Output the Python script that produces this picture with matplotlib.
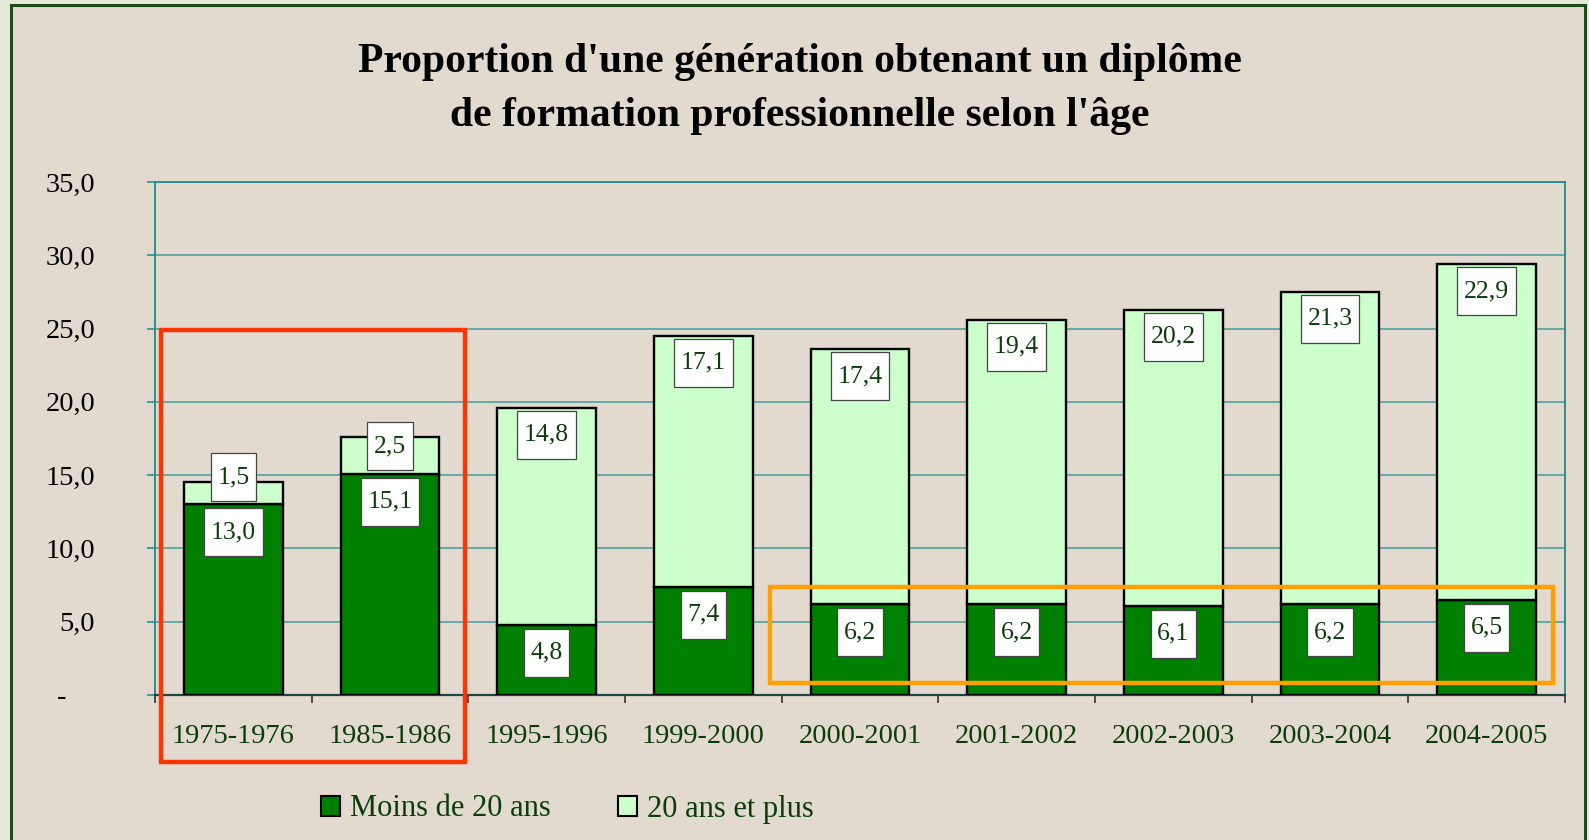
import matplotlib
matplotlib.use("Agg")
import matplotlib.pyplot as plt
from matplotlib.patches import Patch, Rectangle
from matplotlib.path import Path
import numpy as np

# ── data ────────────────────────────────────────────────────────────────
periods = ["1975-1976", "1985-1986", "1995-1996", "1999-2000", "2000-2001",
           "2001-2002", "2002-2003", "2003-2004", "2004-2005"]
moins_20 = [13.0, 15.1, 4.8, 7.4, 6.2, 6.2, 6.1, 6.2, 6.5]
plus_20 = [1.5, 2.5, 14.8, 17.1, 17.4, 19.4, 20.2, 21.3, 22.9]
series_names = ["Moins de 20 ans", "20 ans et plus"]
title = "Proportion d'une génération obtenant un diplôme\nde formation professionnelle selon l'âge"

# ── style ───────────────────────────────────────────────────────────────
_OUTER = "#E7E9DB"
_BG = "#E3DACF"
_FRAME = "#1E4A1E"
_DARK = "#008000"
_LIGHT = "#CCFFCC"
_TXT = "#0B3D0B"
_TEAL = "#2E8E8E"
_GRID = "#5AA6A6"
_RED = "#FF3300"
_ORANGE = "#FFA000"
_SERIF = ["Liberation Serif", "DejaVu Serif"]

W, H, DPI = 1589, 840, 100
AX_L, AX_R, AX_T, AX_B = 155, 1565, 182, 695   # pixels
YMAX = 35
PX_PER_U = (AX_B - AX_T) / YMAX
BOX_H = 48 / PX_PER_U        # label box height in data units
BOX_GAP = 4 / PX_PER_U


def label_box(x0, y0, width, height, mutation_size):
    """Excel-like data label box: fixed height, narrow side padding."""
    padx = 0.26 * mutation_size
    half_h = 24
    cy = y0 + height / 2
    x_l, x_r = x0 - padx, x0 + width + padx
    verts = [(x_l, cy - half_h), (x_r, cy - half_h), (x_r, cy + half_h),
             (x_l, cy + half_h), (x_l, cy - half_h)]
    return Path(verts, closed=True)


fig = plt.figure(figsize=(W / DPI, H / DPI), dpi=DPI, facecolor=_OUTER)

# framed panel
fig.patches.append(Rectangle((11 / W, -0.02), (1585 - 11) / W, 1 - 5 / H + 0.02,
                             transform=fig.transFigure, fc=_BG, ec=_FRAME,
                             lw=2.2, zorder=-10))

ax = fig.add_axes([AX_L / W, 1 - AX_B / H, (AX_R - AX_L) / W, (AX_B - AX_T) / H])
ax.set_facecolor("none")

x = np.arange(len(periods))
bw = 0.63
ax.bar(x, moins_20, bw, color=_DARK, edgecolor="black", lw=1.7, zorder=3,
       label=series_names[0])
ax.bar(x, plus_20, bw, bottom=moins_20, color=_LIGHT, edgecolor="black", lw=1.7,
       zorder=3, label=series_names[1])

ax.set_xlim(-0.5, len(periods) - 0.5)
ax.set_ylim(0, YMAX)

# y axis
yt = np.arange(0, YMAX + 1, 5)
ax.set_yticks(yt)
ax.set_yticklabels(["-    " if v == 0 else f"{v:.1f}".replace(".", ",") for v in yt],
                   family=_SERIF, fontsize=20.5, color="black")
ax.tick_params(axis="y", length=6, width=1.2, color=_TEAL, pad=37)
ax.yaxis.grid(True, color=_GRID, lw=1.3, zorder=1)
ax.set_axisbelow(True)

# x axis: ticks on category boundaries, labels at centres
ax.set_xticks(np.arange(len(periods) + 1) - 0.5)
ax.set_xticklabels([])
ax.set_xticks(x, minor=True)
ax.set_xticklabels(periods, minor=True, family=_SERIF, fontsize=20.5, color=_TXT)
ax.tick_params(axis="x", which="major", length=6, width=1.2, color="#333333")
ax.tick_params(axis="x", which="minor", length=0, pad=21)

for side in ["left", "top", "right"]:
    ax.spines[side].set_color(_TEAL)
    ax.spines[side].set_linewidth(1.4)
ax.spines["bottom"].set_color("#1F4545")
ax.spines["bottom"].set_linewidth(1.6)

# data labels
for i, (lo, hi) in enumerate(zip(moins_20, plus_20)):
    lo_box_top = lo - BOX_GAP
    lo_c = lo_box_top - BOX_H / 2
    top = lo + hi
    hi_box_top = max(top - BOX_GAP * 0.75, lo_box_top + BOX_H + 0.5)
    hi_c = hi_box_top - BOX_H / 2
    for val, yc in ((lo, lo_c), (hi, hi_c)):
        ax.text(i, yc, f"{val:.1f}".replace(".", ","), ha="center", va="center",
                family=_SERIF, fontsize=18.5, color=_TXT, zorder=6,
                bbox=dict(boxstyle=label_box, fc="white", ec="#444444", lw=0.9))

# highlight frames
ax.add_patch(Rectangle((-0.462, -4.57), 1.941, 24.9 + 4.57, fill=False,
                       ec=_RED, lw=3.2, clip_on=False, zorder=7))
ax.add_patch(Rectangle((3.425, 0.82), 4.998, 7.37 - 0.82, fill=False,
                       ec=_ORANGE, lw=3.2, clip_on=False, zorder=7))

# title
fig.text(800 / W, 1 - 89 / H, title, ha="center", va="center", family=_SERIF,
         fontsize=30, fontweight="bold", color="black", linespacing=1.55)

# legend
handles = [Patch(fc=_DARK, ec="black", lw=1.5), Patch(fc=_LIGHT, ec="black", lw=1.5)]
leg = fig.legend(handles, series_names, loc="center", ncol=2, frameon=False,
                 bbox_to_anchor=(567 / W, 1 - 809 / H), handlelength=0.65,
                 handleheight=0.65, handletextpad=0.3, columnspacing=2.2,
                 prop={"family": _SERIF, "size": 22})
for t in leg.get_texts():
    t.set_color(_TXT)

fig.savefig("out.png", dpi=DPI, facecolor=fig.get_facecolor())
